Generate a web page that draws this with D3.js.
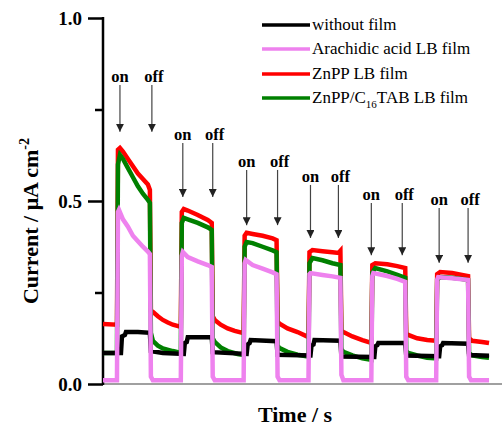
<!DOCTYPE html>
<html>
<head>
<meta charset="utf-8">
<script src="https://cdn.jsdelivr.net/npm/d3@7/dist/d3.min.js"></script>
<style>
  html, body { margin: 0; padding: 0; background: #fff; }
  svg { display: block; }
  text { font-family: "Liberation Serif", "Times New Roman", serif; }
</style>
</head>
<body>
<svg id="chart" width="503" height="427"></svg>
<script>
// ---- data (time in arbitrary units, current in µA cm^-2) ----
const seriesNames = ["without film", "Arachidic acid LB film", "ZnPP LB film", "ZnPP/C16TAB LB film"];

const withoutFilm = [
  [0,0.085],[18,0.085],[19,0.13],[22,0.134],[23,0.142],[35,0.142],[47,0.14],
  [48,0.09],[60,0.085],[81,0.082],
  [82,0.112],[84,0.115],[85,0.128],[109,0.128],
  [110,0.087],[144,0.082],
  [145,0.108],[147,0.112],[148,0.12],[174,0.117],
  [175,0.08],[208,0.078],
  [209,0.105],[211,0.108],[212,0.12],[238,0.118],
  [239,0.075],[272,0.074],
  [273,0.103],[275,0.106],[276,0.112],[303,0.112],
  [304,0.078],[337,0.076],
  [338,0.103],[340,0.106],[341,0.112],[366,0.11],
  [367,0.079],[387,0.077]
];

const arachidic = [
  [0,0.01],[14,0.01],
  [15,0.47],[16,0.476],[20,0.45],[25,0.43],[30,0.405],[35,0.39],[40,0.375],[45,0.362],[47,0.355],
  [48,0.02],[50,0.01],[78,0.01],
  [79,0.35],[80,0.361],[85,0.347],[95,0.335],[105,0.325],[109,0.32],
  [110,0.02],[112,0.01],[141,0.01],
  [142,0.33],[143,0.339],[150,0.325],[160,0.315],[170,0.305],[174,0.3],
  [175,0.02],[177,0.01],[206,0.01],
  [207,0.3],[208,0.303],[220,0.298],[230,0.294],[238,0.29],
  [239,0.025],[241,0.01],[269,0.01],
  [270,0.295],[271,0.303],[285,0.295],[295,0.287],[303,0.279],
  [304,0.02],[306,0.01],[334,0.01],
  [335,0.285],[336,0.292],[350,0.289],[360,0.286],[366,0.284],
  [367,0.02],[369,0.01],[387,0.01]
];

const znpp = [
  [0,0.164],[14,0.162],
  [15,0.64],[17,0.645],[20,0.635],[25,0.615],[30,0.595],[35,0.575],[40,0.56],[45,0.545],[47,0.53],
  [48,0.2],[50,0.197],[55,0.185],[60,0.175],[65,0.168],[70,0.162],[78,0.156],
  [79,0.47],[81,0.478],[85,0.474],[90,0.468],[95,0.462],[100,0.455],[105,0.448],[109,0.44],
  [110,0.185],[112,0.175],[118,0.162],[125,0.152],[132,0.145],[141,0.139],
  [142,0.405],[144,0.413],[150,0.41],[160,0.405],[170,0.398],[174,0.393],
  [175,0.17],[177,0.165],[185,0.152],[195,0.142],[206,0.128],
  [207,0.36],[210,0.366],[220,0.363],[230,0.36],[236,0.358],[238,0.364],
  [239,0.145],[241,0.142],[250,0.13],[260,0.12],[269,0.112],
  [270,0.325],[273,0.33],[285,0.327],[295,0.322],[303,0.317],
  [304,0.138],[306,0.134],[315,0.125],[325,0.12],[334,0.118],
  [335,0.3],[338,0.306],[350,0.303],[360,0.298],[366,0.295],
  [367,0.125],[370,0.118],[380,0.115],[387,0.112]
];

const znppC16 = [
  [0,0.085],[14,0.085],
  [15,0.6],[17,0.626],[20,0.615],[25,0.59],[30,0.565],[35,0.54],[40,0.52],[45,0.503],[47,0.495],
  [48,0.14],[50,0.118],[55,0.105],[60,0.097],[70,0.09],[78,0.085],
  [79,0.44],[81,0.454],[85,0.45],[95,0.44],[105,0.428],[109,0.421],
  [110,0.125],[112,0.115],[118,0.1],[125,0.09],[135,0.082],[141,0.079],
  [142,0.375],[144,0.388],[150,0.385],[160,0.375],[170,0.365],[174,0.36],
  [175,0.105],[177,0.098],[185,0.088],[195,0.08],[206,0.075],
  [207,0.33],[210,0.344],[220,0.338],[230,0.33],[238,0.325],
  [239,0.095],[241,0.088],[250,0.078],[260,0.07],[269,0.066],
  [270,0.305],[273,0.317],[285,0.308],[295,0.298],[303,0.29],
  [304,0.09],[306,0.085],[315,0.078],[325,0.072],[334,0.07],
  [335,0.285],[338,0.292],[350,0.29],[360,0.287],[366,0.284],
  [367,0.085],[370,0.078],[380,0.074],[387,0.072]
];

// light on / off markers: arrow time, arrow tip value, label value (bottom of label)
const onTimes   = [17, 80, 144, 208, 269, 337];
const offTimes  = [49, 110, 175, 236, 300, 366];
const arrowTips = [0.689, 0.511, 0.434, 0.399, 0.352, 0.331];
const labelBase = [0.825, 0.667, 0.593, 0.552, 0.503, 0.489];

const yMajorTicks = [0, 0.5, 1.0];
const yMinorTicks = [0.25, 0.75];
const yTickLabels = ["0.0", "0.5", "1.0"];

// ---- drawing ----
const svg = d3.select("#chart");
const x = d3.scaleLinear().domain([0, 400]).range([103, 502]);
const y = d3.scaleLinear().domain([0, 1]).range([384, 18]);

const colors = { black: "#000000", pink: "#ee82ee", red: "#ff0000", green: "#008000" };

// x axis (grey line, no ticks)
svg.append("line")
  .attr("x1", x(0)).attr("x2", x(400))
  .attr("y1", y(0)).attr("y2", y(0))
  .attr("stroke", "#808080").attr("stroke-width", 1.5);

// y axis
const yAxis = d3.axisLeft(y)
  .tickValues(yMajorTicks)
  .tickSize(15)
  .tickPadding(6)
  .tickFormat((d, i) => yTickLabels[i]);
const gy = svg.append("g").attr("transform", `translate(${x(0)},0)`).call(yAxis);
gy.select(".domain").remove();
gy.selectAll(".tick line").attr("stroke", "#000").attr("stroke-width", 2.5);
gy.selectAll(".tick text")
  .attr("font-family", "'Liberation Serif', 'Times New Roman', serif")
  .attr("font-size", 19).attr("font-weight", "bold").attr("fill", "#000");
const yMinor = d3.axisLeft(y).tickValues(yMinorTicks).tickSize(8).tickFormat("");
const gym = svg.append("g").attr("transform", `translate(${x(0)},0)`).call(yMinor);
gym.select(".domain").remove();
gym.selectAll(".tick line").attr("stroke", "#000").attr("stroke-width", 2.5);
svg.append("line")
  .attr("x1", x(0)).attr("x2", x(0))
  .attr("y1", y(1) - 1).attr("y2", y(0) + 1)
  .attr("stroke", "#000").attr("stroke-width", 2.5);

// data lines
const line = d3.line().x(d => x(d[0])).y(d => y(d[1]));
const drawOrder = [
  [znpp, colors.red],
  [znppC16, colors.green],
  [withoutFilm, colors.black],
  [arachidic, colors.pink]
];
drawOrder.forEach(([data, col]) => {
  svg.append("path").datum(data)
    .attr("d", line)
    .attr("fill", "none")
    .attr("stroke", col)
    .attr("stroke-width", 4.5)
    .attr("stroke-linejoin", "miter");
});

// arrows and on/off labels
svg.append("defs").append("marker")
  .attr("id", "arrowhead")
  .attr("viewBox", "0 0 10 10")
  .attr("refX", 10).attr("refY", 5)
  .attr("markerWidth", 8).attr("markerHeight", 8)
  .attr("markerUnits", "userSpaceOnUse")
  .attr("orient", "auto")
  .append("path").attr("d", "M0,0 L10,5 L0,10 Z").attr("fill", "#222");

function drawMarker(t, i, label) {
  const tip = y(arrowTips[i]);
  const base = y(labelBase[i]);
  svg.append("line")
    .attr("x1", x(t)).attr("x2", x(t))
    .attr("y1", base + 3).attr("y2", tip)
    .attr("stroke", "#444").attr("stroke-width", 1.2)
    .attr("marker-end", "url(#arrowhead)");
  svg.append("text")
    .attr("x", x(t) + (label === "off" ? 2 : 0)).attr("y", base)
    .attr("text-anchor", "middle")
    .attr("font-size", 16.5).attr("font-weight", "bold")
    .attr("fill", "#000")
    .text(label);
}
onTimes.forEach((t, i) => drawMarker(t, i, "on"));
offTimes.forEach((t, i) => drawMarker(t, i, "off"));

// legend
const legendColors = [colors.black, colors.pink, colors.red, colors.green];
const legendY = [25, 49, 74, 98];
seriesNames.forEach((name, i) => {
  svg.append("line")
    .attr("x1", 262).attr("x2", 310)
    .attr("y1", legendY[i]).attr("y2", legendY[i])
    .attr("stroke", legendColors[i]).attr("stroke-width", 3.5);
  const t = svg.append("text")
    .attr("x", 312).attr("y", legendY[i] + 5)
    .attr("font-size", 17).attr("fill", "#000");
  if (name.includes("C16")) {
    const parts = name.split("C16");
    t.append("tspan").text(parts[0] + "C");
    t.append("tspan").attr("font-size", 11).attr("dy", 5).text("16");
    t.append("tspan").attr("dy", -5).text(parts[1]);
  } else {
    t.text(name);
  }
});

// axis titles
svg.append("text")
  .attr("x", 295).attr("y", 422)
  .attr("text-anchor", "middle")
  .attr("font-size", 22).attr("font-weight", "bold")
  .text("Time / s");

const yt = svg.append("text")
  .attr("transform", "translate(38,221) rotate(-90)")
  .attr("text-anchor", "middle")
  .attr("font-size", 22).attr("font-weight", "bold");
yt.append("tspan").text("Current / \u03bcA cm");
yt.append("tspan").attr("font-size", 14).attr("dy", -9).text("-2");
</script>
</body>
</html>
